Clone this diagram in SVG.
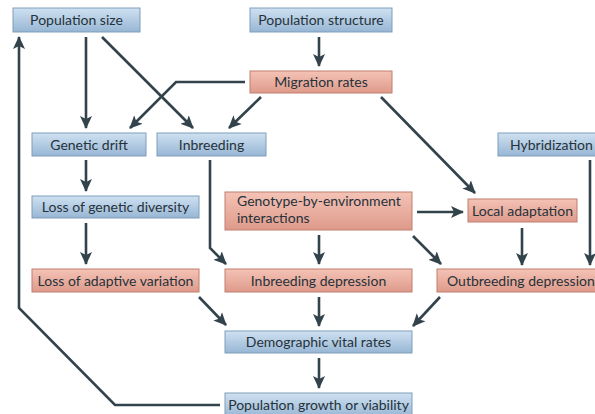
<svg xmlns="http://www.w3.org/2000/svg" width="595" height="414" viewBox="0 0 595 414">
<defs>
<linearGradient id="gb" x1="0" y1="0" x2="0" y2="1">
<stop offset="0" stop-color="#cfe1f1"/>
<stop offset="1" stop-color="#97b6d4"/>
</linearGradient>
<linearGradient id="gp" x1="0" y1="0" x2="0" y2="1">
<stop offset="0" stop-color="#f4c3b6"/>
<stop offset="1" stop-color="#de9a8a"/>
</linearGradient>
<marker id="ah" markerUnits="userSpaceOnUse" markerWidth="14" markerHeight="14" viewBox="0 0 14 14" refX="12" refY="7" orient="auto">
<path d="M0,1 L13,7 L0,13 L3,7 Z" fill="#33434c"/>
</marker>
</defs>
<style>
.b{fill:url(#gb);stroke:#7f9dba;stroke-width:1}
.p{fill:url(#gp);stroke:#c07e70;stroke-width:1}
text{font-family:Lato,"Open Sans","Liberation Sans",sans-serif;font-size:14px;fill:#26323a}
.c{text-anchor:middle}
.e{fill:none;stroke:#33434c;stroke-width:2.6;marker-end:url(#ah)}
</style>
<rect width="595" height="414" fill="#ffffff"/>
<g id="connectors">
<line class="e" x1="86" y1="37" x2="86" y2="128"/>
<line class="e" x1="102" y1="37" x2="193" y2="128"/>
<line class="e" x1="319" y1="37" x2="319" y2="66"/>
<polyline class="e" points="245,82 176,82 130,128"/>
<line class="e" x1="261" y1="97" x2="229" y2="128"/>
<line class="e" x1="381" y1="97" x2="475" y2="193"/>
<line class="e" x1="86" y1="160" x2="86" y2="191"/>
<polyline class="e" points="210,160 210,248 226,264"/>
<line class="e" x1="86" y1="223" x2="86" y2="264"/>
<line class="e" x1="199" y1="297" x2="226" y2="325"/>
<line class="e" x1="417" y1="212" x2="463" y2="212"/>
<line class="e" x1="319" y1="235" x2="319" y2="264"/>
<line class="e" x1="413" y1="236" x2="441" y2="264"/>
<line class="e" x1="522" y1="228" x2="522" y2="265"/>
<line class="e" x1="590" y1="160" x2="590" y2="265"/>
<line class="e" x1="319" y1="297" x2="319" y2="326"/>
<line class="e" x1="440" y1="297" x2="413" y2="326"/>
<line class="e" x1="319" y1="358" x2="319" y2="388"/>
<polyline class="e" points="220,405 115,405 19,308 19,37"/>
</g>
<g id="n-popsize"><rect class="b" x="13" y="8" width="127" height="24"/><text class="c" x="76.5" y="25">Population size</text></g>
<g id="n-popstruct"><rect class="b" x="250" y="8" width="142" height="24"/><text class="c" x="321" y="25">Population structure</text></g>
<g id="n-migration"><rect class="p" x="250" y="71" width="142" height="22"/><text class="c" x="321" y="87">Migration rates</text></g>
<g id="n-drift"><rect class="b" x="32" y="133" width="114" height="23"/><text class="c" x="89" y="149.5">Genetic drift</text></g>
<g id="n-inbreeding"><rect class="b" x="157" y="133" width="109" height="23"/><text class="c" x="211.5" y="149.5">Inbreeding</text></g>
<g id="n-hybrid"><rect class="b" x="498" y="133" width="102" height="23"/><text x="510" y="149.5">Hybridization</text></g>
<g id="n-lossgd"><rect class="b" x="32" y="196" width="167" height="22"/><text class="c" x="115.5" y="212">Loss of genetic diversity</text></g>
<g id="n-gxe"><rect class="p" x="225" y="192" width="187" height="38"/><text x="237" y="206">Genotype-by-environment</text><text x="237" y="223">interactions</text></g>
<g id="n-local"><rect class="p" x="468" y="199" width="109" height="23"/><text class="c" x="522.5" y="215.5">Local adaptation</text></g>
<g id="n-lossav"><rect class="p" x="32" y="269" width="167" height="23"/><text class="c" x="115.5" y="285.5">Loss of adaptive variation</text></g>
<g id="n-inbdep"><rect class="p" x="225" y="269" width="187" height="23"/><text class="c" x="318.5" y="285.5">Inbreeding depression</text></g>
<g id="n-outdep"><rect class="p" x="437" y="269" width="163" height="23"/><text x="447" y="285.5">Outbreeding depression</text></g>
<g id="n-demo"><rect class="b" x="225" y="331" width="187" height="22"/><text class="c" x="318.5" y="347">Demographic vital rates</text></g>
<g id="n-growth"><rect class="b" x="225" y="393" width="187" height="24"/><text class="c" x="318.5" y="410">Population growth or viability</text></g>
</svg>
